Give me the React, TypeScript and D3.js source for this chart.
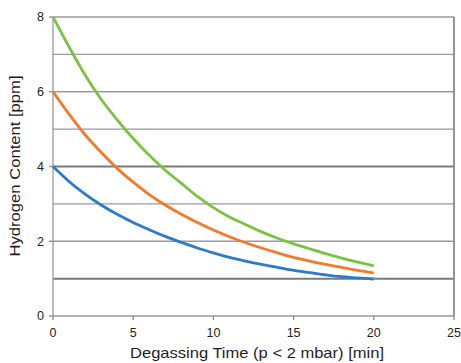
import React from "react";
import * as d3 from "d3";

const times = [0,1,2,3,4,5,6,7,8,9,10,11,12,13,14,15,16,17,18,19,20];
const green = [8,7.2,6.45,5.8,5.25,4.75,4.3,3.9,3.55,3.2,2.9,2.65,2.45,2.25,2.08,1.93,1.8,1.67,1.55,1.44,1.34];
const orange = [6,5.4,4.85,4.38,3.95,3.58,3.25,2.97,2.72,2.5,2.3,2.12,1.96,1.82,1.69,1.57,1.47,1.38,1.3,1.22,1.15];
const blue = [4,3.6,3.26,2.97,2.72,2.5,2.31,2.13,1.97,1.82,1.69,1.57,1.47,1.38,1.3,1.22,1.16,1.1,1.05,1.02,0.99];
const xTicks = [0,5,10,15,20,25];
const yTicks = [0,2,4,6,8];
const gridVals = [1,2,3,4,5,6,7,8];
const darkGrid = [1,4];
const series = [
  { name: "blue", values: blue, color: "#2a7ccb" },
  { name: "orange", values: orange, color: "#f27a2a" },
  { name: "green", values: green, color: "#7cc242" },
];

export default function App() {
  const W = 461, H = 363;
  const x = d3.scaleLinear().domain([0, 25]).range([53, 454]);
  const y = d3.scaleLinear().domain([0, 8]).range([316, 17]);
  const line = d3.line<number>().x((_, i) => x(times[i])).y((d) => y(d)).curve(d3.curveMonotoneX);
  const font = "Liberation Sans, Arial, Helvetica, sans-serif";
  return (
    <svg width={W} height={H} style={{ position: "absolute", left: 0, top: 0, background: "#fff" }} fontFamily={font}>
      {gridVals.map((v) => (
        <line key={v} x1={x(0)} x2={x(25)} y1={y(v)} y2={y(v)}
          stroke={darkGrid.includes(v) ? "#7a7a7a" : "#9a9a9a"} strokeWidth={darkGrid.includes(v) ? 2 : 1.3} />
      ))}
      <line x1={x(25)} x2={x(25)} y1={y(8)} y2={y(0)} stroke="#8a8a8a" strokeWidth={1.8} />
      <line x1={x(0)} x2={x(0)} y1={y(8)} y2={y(0)} stroke="#9a9a9a" strokeWidth={1.3} />
      <line x1={x(0)} x2={x(25)} y1={y(0)} y2={y(0)} stroke="#9a9a9a" strokeWidth={1.5} />
      {yTicks.map((v) => (
        <g key={v}>
          <line x1={x(0) - 4} x2={x(0)} y1={y(v)} y2={y(v)} stroke="#8a8a8a" strokeWidth={1.3} />
          <text x={44} y={y(v)} dy="0.35em" textAnchor="end" fontSize={12.5} fill="#222">{v}</text>
        </g>
      ))}
      {xTicks.map((v) => (
        <g key={v}>
          <line x1={x(v)} x2={x(v)} y1={y(0)} y2={y(0) + 4} stroke="#8a8a8a" strokeWidth={1.3} />
          <text x={x(v)} y={333} dy="0.35em" textAnchor="middle" fontSize={12.5} fill="#222">{v}</text>
        </g>
      ))}
      {series.map((s) => (
        <path key={s.name} d={line(s.values) || ""} fill="none" stroke={s.color} strokeWidth={2.8} strokeLinecap="butt" />
      ))}
      <text x={257} y={353} dy="0.35em" textAnchor="middle" fontSize={15} fill="#1e1e1e"
        textLength={254} lengthAdjust="spacingAndGlyphs">Degassing Time (p &lt; 2 mbar) [min]</text>
      <text transform={`translate(15,166) rotate(-90)`} dy="0.35em" textAnchor="middle" fontSize={15} fill="#1e1e1e"
        textLength={181} lengthAdjust="spacingAndGlyphs">Hydrogen Content [ppm]</text>
    </svg>
  );
}
